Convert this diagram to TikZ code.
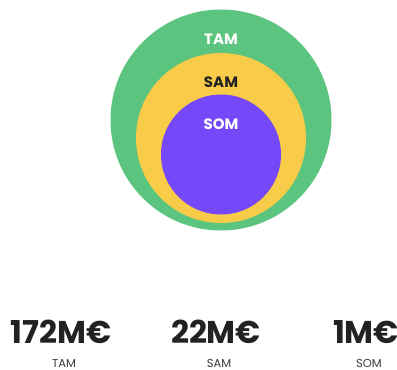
\documentclass[tikz,border=0pt]{standalone}
\usepackage{fontspec}
\setmainfont{Poppins}
\usetikzlibrary{positioning}
\definecolor{Green}{HTML}{5BC47F}
\definecolor{Yellow}{HTML}{F8CB48}
\definecolor{Purple}{HTML}{7548F9}
\definecolor{Ink}{HTML}{222222}
\definecolor{Muted}{HTML}{3A3A3A}
\tikzset{
  market/.style={circle,inner sep=0pt},
  ringlab/.style={font=\bfseries\fontsize{15}{17}\selectfont},
  amount/.style={font=\bfseries\fontsize{31.5}{36}\selectfont,text=Ink},
  amountlab/.style={font=\fontsize{11.5}{13}\selectfont,text=Muted}
}
\begin{document}
\begin{tikzpicture}[x=1pt,y=-1pt]
        \useasboundingbox (0,0) rectangle (397,370);
        % nested markets
        \node[market,fill=Green,minimum size=221pt] (tam) at (221,120) {};
        \node[market,fill=Yellow,minimum size=170pt] (sam) at (221,138) {};
        \node[market,fill=Purple,minimum size=120pt] (som) at (221,154.5) {};
        \node[ringlab,text=white] (tamlab) at (221,39) {TAM};
        \node[ringlab,text=Ink] (samlab) at (221,82) {SAM};
        \node[ringlab,text=white] (somlab) at (221,124) {SOM};
        % figures
        \foreach \x/\val/\lab/\nm in {61/172M€/TAM/a,216/22M€/SAM/b,366/1M€/SOM/c}{
          \node[amount] (val\nm) at (\x,332) {\val};
          \node[amountlab] (lab\nm) at (\x+3,363) {\lab};
        }
      \end{tikzpicture}
\end{document}
